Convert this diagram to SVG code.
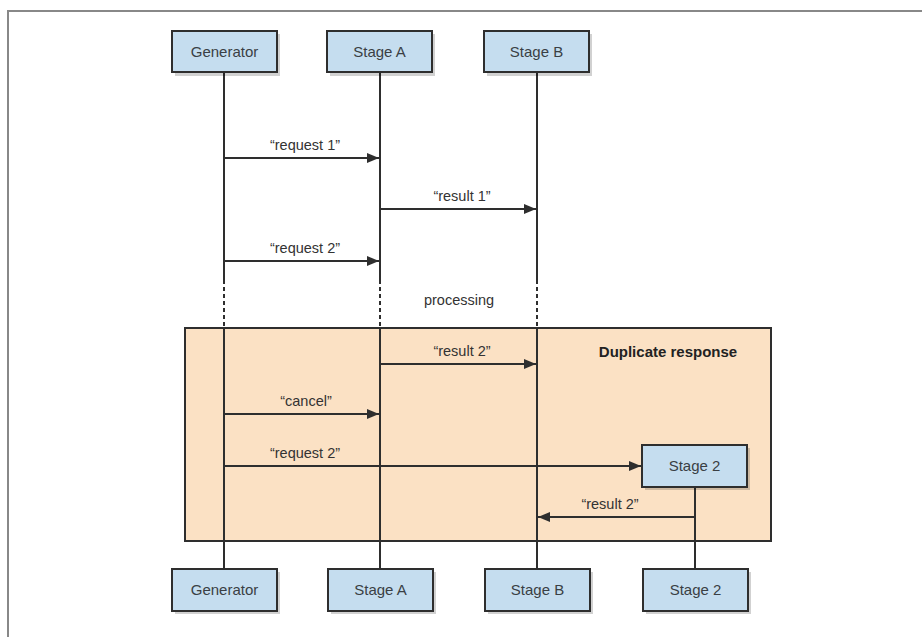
<svg xmlns="http://www.w3.org/2000/svg" width="922" height="637" viewBox="0 0 922 637">
<defs>
<style>
.box{fill:#c5ddef;stroke:#2e2e2e;stroke-width:2}
.shadow{fill:#000;opacity:0.18}
.lbl{font-family:"Liberation Sans",Arial,sans-serif;font-size:15px;fill:#3a3f44;text-anchor:middle}
.msg{font-family:"Liberation Sans",Arial,sans-serif;font-size:14.5px;fill:#333;text-anchor:middle}
.life{stroke:#2e2e2e;stroke-width:2;fill:none}
.dash{stroke:#2e2e2e;stroke-width:2;stroke-dasharray:4 3;fill:none}
.arr{stroke:#2e2e2e;stroke-width:2;fill:none}
</style>
<marker id="ah" viewBox="0 0 12 10" refX="12" refY="5" markerWidth="12" markerHeight="10" markerUnits="userSpaceOnUse" orient="auto">
<path d="M0,0 L12,5 L0,10 z" fill="#2e2e2e"/>
</marker>
</defs>
<rect width="922" height="637" fill="#fff"/>
<path d="M8,637 V11 H922" fill="none" stroke="#888" stroke-width="2"/>

<g id="fragment">
<rect x="185" y="328" width="586" height="213" fill="#fbe1c4" stroke="#2e2e2e" stroke-width="2"/>
<text x="668" y="357" font-family="'Liberation Sans',Arial,sans-serif" font-size="15" font-weight="bold" fill="#222" text-anchor="middle">Duplicate response</text>
</g>

<g id="connectors">
<line class="life" x1="224" y1="72" x2="224" y2="280"/>
<line class="dash" x1="224" y1="280" x2="224" y2="328"/>
<line class="life" x1="224" y1="328" x2="224" y2="569"/>
<line class="life" x1="380" y1="72" x2="380" y2="280"/>
<line class="dash" x1="380" y1="280" x2="380" y2="328"/>
<line class="life" x1="380" y1="328" x2="380" y2="569"/>
<line class="life" x1="537" y1="72" x2="537" y2="280"/>
<line class="dash" x1="537" y1="280" x2="537" y2="328"/>
<line class="life" x1="537" y1="328" x2="537" y2="569"/>
<line class="life" x1="695" y1="487" x2="695" y2="569"/>

<line class="arr" x1="224" y1="158" x2="379" y2="158" marker-end="url(#ah)"/>
<line class="arr" x1="380" y1="209" x2="536" y2="209" marker-end="url(#ah)"/>
<line class="arr" x1="224" y1="261" x2="379" y2="261" marker-end="url(#ah)"/>
<line class="arr" x1="380" y1="364" x2="536" y2="364" marker-end="url(#ah)"/>
<line class="arr" x1="224" y1="414" x2="379" y2="414" marker-end="url(#ah)"/>
<line class="arr" x1="224" y1="466" x2="641" y2="466" marker-end="url(#ah)"/>
<line class="arr" x1="695" y1="517" x2="538" y2="517" marker-end="url(#ah)"/>

<text class="msg" x="305" y="150">“request 1”</text>
<text class="msg" x="462" y="201">“result 1”</text>
<text class="msg" x="305" y="253">“request 2”</text>
<text class="msg" x="459" y="305">processing</text>
<text class="msg" x="462" y="356">“result 2”</text>
<text class="msg" x="306" y="406">“cancel”</text>
<text class="msg" x="305" y="458">“request 2”</text>
<text class="msg" x="610" y="509">“result 2”</text>
</g>

<g id="generator-top"><rect class="shadow" x="175" y="34" width="105" height="42"/><rect class="box" x="172" y="31" width="105" height="41"/><text class="lbl" x="224.5" y="57">Generator</text></g>
<g id="stageA-top"><rect class="shadow" x="330" y="34" width="105" height="42"/><rect class="box" x="327" y="31" width="105" height="41"/><text class="lbl" x="379.5" y="57">Stage A</text></g>
<g id="stageB-top"><rect class="shadow" x="487" y="34" width="105" height="42"/><rect class="box" x="484" y="31" width="105" height="41"/><text class="lbl" x="536.5" y="57">Stage B</text></g>
<g id="stage2-mid"><rect class="shadow" x="645" y="448" width="105" height="42"/><rect class="box" x="642" y="445" width="105" height="42"/><text class="lbl" x="694.5" y="471">Stage 2</text></g>

<g id="generator-bottom"><rect class="shadow" x="175" y="572" width="105" height="42"/><rect class="box" x="172" y="569" width="105" height="42"/><text class="lbl" x="224.5" y="595">Generator</text></g>
<g id="stageA-bottom"><rect class="shadow" x="331" y="572" width="105" height="42"/><rect class="box" x="328" y="569" width="105" height="42"/><text class="lbl" x="380.5" y="595">Stage A</text></g>
<g id="stageB-bottom"><rect class="shadow" x="488" y="572" width="105" height="42"/><rect class="box" x="485" y="569" width="105" height="42"/><text class="lbl" x="537.5" y="595">Stage B</text></g>
<g id="stage2-bottom"><rect class="shadow" x="646" y="572" width="105" height="42"/><rect class="box" x="643" y="569" width="105" height="42"/><text class="lbl" x="695.5" y="595">Stage 2</text></g>
</svg>
